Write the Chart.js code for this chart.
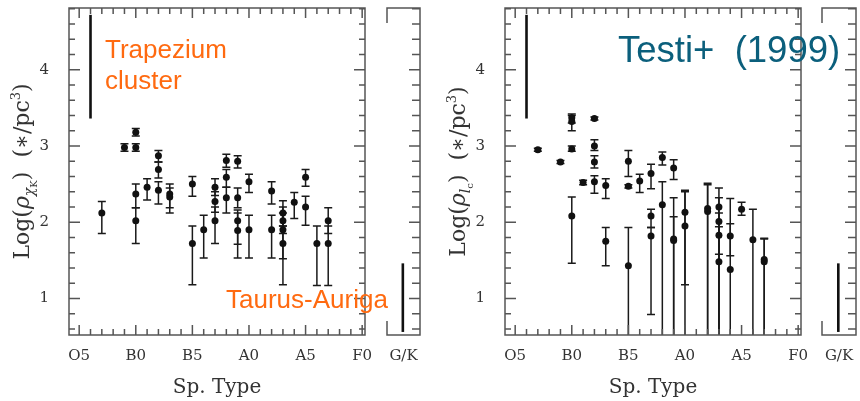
<!DOCTYPE html>
<html>
<head>
<meta charset="utf-8">
<script src="https://cdn.jsdelivr.net/npm/chart.js@4.4.0/dist/chart.umd.min.js"></script>
<style>
    html, body { margin: 0; padding: 0; background: #ffffff; }
    #wrap { position: relative; width: 860px; height: 401px; overflow: hidden; }
    #wrap canvas { position: absolute; top: 0; }
</style>
</head>
<body>
<div id="wrap">
    <canvas id="leftMain" width="430" height="401" style="left:0"></canvas>
    <canvas id="leftSide" width="50" height="401" style="left:380px"></canvas>
    <canvas id="rightMain" width="430" height="401" style="left:430px"></canvas>
    <canvas id="rightSide" width="45" height="401" style="left:815px"></canvas>
</div>
<script>
(function () {
    'use strict';

    // spectral type index: O5 = 0, O6 = 1 ... B0 = 5 ... A0 = 15 ... F0 = 25
    const spTypeTicks = [0, 5, 10, 15, 20, 25];
    const spTypeLabels = ['O5', 'B0', 'B5', 'A0', 'A5', 'F0'];
    const densityTicks = [1, 2, 3, 4];
    const sideLabel = 'G/K';

    // left panel: log rho (K band)
    const kType = [2, 4, 5, 5, 5, 5, 6, 7, 7, 7, 8, 8, 10, 10, 11, 12, 12, 12, 13, 13, 13,
        14, 14, 14, 14, 15, 15, 17, 17, 18, 18, 18, 18, 19, 20, 20, 21, 22, 22];
    const kLog = [2.12, 2.98, 3.18, 2.98, 2.37, 2.02, 2.46, 2.87, 2.69, 2.42, 2.37, 2.33, 2.50, 1.72, 1.90, 2.46, 2.27, 2.02, 2.81, 2.59, 2.32,
        2.80, 2.32, 2.02, 1.89, 2.53, 1.90, 2.41, 1.90, 2.12, 2.02, 1.90, 1.72, 2.26, 2.59, 2.20, 1.72, 2.02, 1.72];
    const kLo = [1.85, 2.93, 3.13, 2.93, 2.19, 1.72, 2.29, 2.79, 2.58, 2.24, 2.19, 2.12, 2.34, 1.18, 1.53, 2.35, 2.13, 1.72, 2.72, 2.46, 2.12,
        2.71, 2.19, 1.71, 1.53, 2.39, 1.53, 2.24, 1.53, 1.95, 1.85, 1.52, 1.18, 2.05, 2.47, 1.96, 1.17, 1.85, 1.17];
    const kHi = [2.27, 3.03, 3.23, 3.03, 2.50, 2.19, 2.57, 2.94, 2.79, 2.53, 2.50, 2.45, 2.60, 1.95, 2.09, 2.57, 2.40, 2.20, 2.89, 2.69, 2.46,
        2.87, 2.45, 2.16, 2.12, 2.63, 2.09, 2.53, 2.09, 2.28, 2.20, 2.12, 1.95, 2.39, 2.69, 2.34, 1.95, 2.19, 1.95];

    // right panel: log rho (Testi+ 1999 index)
    const lcType = [2, 4, 5, 5, 5, 5, 6, 7, 7, 7, 7, 8, 8, 10, 10, 10, 11, 12, 12, 12, 13, 13,
        14, 14, 14, 15, 15, 17, 17, 18, 18, 18, 18, 19, 19, 20, 21, 22, 22];
    const lcLog = [2.95, 2.79, 3.37, 3.32, 2.96, 2.08, 2.52, 3.36, 3.00, 2.79, 2.53, 2.48, 1.75, 2.80, 2.47, 1.43, 2.54, 2.64, 2.08, 1.82, 2.85, 2.23,
        2.71, 1.78, 1.76, 2.13, 1.95, 2.18, 2.14, 2.20, 2.01, 1.83, 1.48, 1.82, 1.38, 2.17, 1.77, 1.51, 1.48];
    const lcLo = [2.93, 2.77, 3.30, 3.20, 2.93, 1.46, 2.49, 3.34, 2.94, 2.71, 2.38, 2.31, 1.43, 2.60, 2.45, 0.0, 2.39, 2.44, 1.93, 0.79, 2.75, 0.0,
        2.56, 0.0, 0.0, 0.0, 1.18, 0.0, 0.0, 1.58, 0.0, 0.0, 0.0, 1.56, 0.0, 2.09, 0.0, 0.0, 0.0];
    const lcHi = [2.97, 2.81, 3.42, 3.40, 3.00, 2.33, 2.55, 3.38, 3.08, 2.87, 2.61, 2.57, 1.93, 2.94, 2.49, 1.93, 2.63, 2.76, 2.17, 1.93, 2.92, 2.53,
        2.82, 2.32, 2.07, 2.42, 2.40, 2.51, 2.49, 2.45, 2.32, 2.12, 1.94, 2.31, 1.98, 2.26, 2.17, 1.79, 1.78];

    // reference ranges drawn as vertical bars
    const trapeziumType = 1;
    const trapeziumRange = [3.36, 4.72];
    const taurusPos = 0.48;
    const taurusRange = [0.56, 1.46];

    const colors = {
        frame: '#555555',
        text: '#333333',
        mark: '#111111',
        orange: '#ff6a10',
        teal: '#0b5f7c'
    };
    const serif = "'DejaVu Serif', 'Liberation Serif', serif";
    const sans = "'Liberation Sans', Arial, sans-serif";

    function points(xs, ys, lo, hi) {
        return xs.map((x, i) => ({ x, y: ys[i], lo: lo[i], hi: hi[i] }));
    }

    // error bars are drawn beneath the dots, clipped to the plot box
    const errorBars = {
        id: 'errorBars',
        beforeDatasetsDraw(chart) {
            const { ctx, chartArea: a, scales: { x, y } } = chart;
            ctx.save();
            ctx.beginPath();
            ctx.rect(a.left, a.top, a.width, a.height);
            ctx.clip();
            ctx.strokeStyle = '#1a1a1a';
            ctx.lineWidth = 1.5;
            chart.data.datasets.forEach((ds) => {
                if (!ds.errorBars) return;
                ds.data.forEach((p) => {
                    const px = x.getPixelForValue(p.x);
                    const top = y.getPixelForValue(p.hi);
                    const bot = y.getPixelForValue(p.lo);
                    ctx.beginPath();
                    ctx.moveTo(px, top);
                    ctx.lineTo(px, bot);
                    ctx.moveTo(px - 4, top);
                    ctx.lineTo(px + 4, top);
                    ctx.moveTo(px - 4, bot);
                    ctx.lineTo(px + 4, bot);
                    ctx.stroke();
                });
            });
            ctx.restore();
        }
    };

    function tick(ctx, x1, y1, x2, y2) {
        ctx.moveTo(x1, y1);
        ctx.lineTo(x2, y2);
    }

    // box with inward ticks on all four sides
    const mainFrame = {
        id: 'mainFrame',
        afterDraw(chart) {
            const { ctx, chartArea: a, scales: { x, y } } = chart;
            ctx.save();
            ctx.strokeStyle = colors.frame;
            ctx.lineWidth = 1.5;
            ctx.strokeRect(a.left, a.top, a.width, a.height);
            ctx.beginPath();
            for (let i = 0; i <= 25; i++) {
                const px = x.getPixelForValue(i);
                const len = i % 5 === 0 ? 10 : 6;
                tick(ctx, px, a.bottom, px, a.bottom - len);
                tick(ctx, px, a.top, px, a.top + len);
            }
            for (let i = 3; i <= 24; i++) {
                const py = y.getPixelForValue(i / 5);
                const len = i % 5 === 0 ? 11 : 6;
                tick(ctx, a.left, py, a.left + len, py);
                tick(ctx, a.right, py, a.right - len, py);
            }
            ctx.stroke();
            ctx.restore();
        }
    };

    // broken-axis side box: full right edge, stubs on the left
    const sideFrame = {
        id: 'sideFrame',
        afterDraw(chart) {
            const { ctx, chartArea: a, scales: { y } } = chart;
            ctx.save();
            ctx.strokeStyle = colors.frame;
            ctx.lineWidth = 1.5;
            ctx.beginPath();
            ctx.moveTo(a.left, a.top + 15);
            ctx.lineTo(a.left, a.top);
            ctx.lineTo(a.right, a.top);
            ctx.lineTo(a.right, a.bottom);
            ctx.lineTo(a.left, a.bottom);
            ctx.lineTo(a.left, a.bottom - 14);
            for (let i = 3; i <= 24; i++) {
                const py = y.getPixelForValue(i / 5);
                const len = i % 5 === 0 ? 11 : 8;
                tick(ctx, a.right, py, a.right - len, py);
            }
            ctx.stroke();
            ctx.restore();
        }
    };

    // rotated y title with sub/superscripts
    const yTitle = {
        id: 'yTitle',
        afterDraw(chart, args, opts) {
            const { ctx, chartArea: a } = chart;
            const size = 22;
            const parts = opts.parts;
            ctx.save();
            ctx.fillStyle = colors.text;
            ctx.textBaseline = 'alphabetic';
            ctx.textAlign = 'left';
            const fontFor = (p) => `${p.italic ? 'italic ' : ''}${Math.round(size * (p.s || 1))}px ${serif}`;
            let total = 0;
            parts.forEach((p) => {
                ctx.font = fontFor(p);
                total += ctx.measureText(p.t).width;
            });
            ctx.translate(a.left - 40, (a.top + a.bottom) / 2);
            ctx.rotate(-Math.PI / 2);
            let cx = -total / 2;
            parts.forEach((p) => {
                ctx.font = fontFor(p);
                ctx.fillText(p.t, cx, p.dy || 0);
                cx += ctx.measureText(p.t).width;
            });
            ctx.restore();
        }
    };

    const notes = {
        id: 'notes',
        afterDraw(chart, args, opts) {
            const { ctx } = chart;
            ctx.save();
            ctx.textAlign = 'left';
            ctx.textBaseline = 'alphabetic';
            (opts.items || []).forEach((n) => {
                ctx.font = `${n.size}px ${sans}`;
                ctx.fillStyle = n.color;
                ctx.fillText(n.text, n.x, n.y);
            });
            ctx.restore();
        }
    };

    function fixWidth(w) {
        return (s) => {
            s.width = w;
            s.paddingTop = 0;
            s.paddingBottom = 0;
        };
    }

    function fixHeight(h) {
        return (s) => {
            s.height = h;
            s.paddingLeft = 0;
            s.paddingRight = 0;
        };
    }

    function makeMain(id, data, yAxisWidth, padRight, titleParts, noteItems) {
        return new Chart(document.getElementById(id), {
            type: 'scatter',
            data: {
                datasets: [
                    {
                        data,
                        errorBars: true,
                        backgroundColor: colors.mark,
                        borderWidth: 0,
                        pointRadius: 3.5
                    },
                    {
                        type: 'line',
                        data: trapeziumRange.map((v) => ({ x: trapeziumType, y: v })),
                        borderColor: colors.mark,
                        borderWidth: 2.6,
                        pointRadius: 0
                    }
                ]
            },
            options: {
                responsive: false,
                animation: false,
                events: [],
                layout: { padding: { top: 8, right: padRight, left: 0, bottom: 0 } },
                plugins: {
                    legend: { display: false },
                    tooltip: { enabled: false },
                    yTitle: { parts: titleParts },
                    notes: { items: noteItems }
                },
                scales: {
                    x: {
                        type: 'linear',
                        min: -0.9,
                        max: 25.25,
                        grid: { display: false },
                        border: { display: false },
                        afterFit: fixHeight(66),
                        afterBuildTicks: (s) => { s.ticks = spTypeTicks.map((value) => ({ value })); },
                        ticks: {
                            autoSkip: false,
                            maxRotation: 0,
                            padding: 4,
                            color: colors.text,
                            font: { family: serif, size: 15 },
                            callback: (v) => spTypeLabels[spTypeTicks.indexOf(v)]
                        },
                        title: {
                            display: true,
                            text: 'Sp. Type',
                            color: colors.text,
                            font: { family: serif, size: 20 },
                            padding: { top: 0, bottom: 1 }
                        }
                    },
                    y: {
                        min: 0.52,
                        max: 4.81,
                        grid: { display: false },
                        border: { display: false },
                        afterFit: fixWidth(yAxisWidth),
                        afterBuildTicks: (s) => { s.ticks = densityTicks.map((value) => ({ value })); },
                        ticks: {
                            padding: 12,
                            color: colors.text,
                            font: { family: serif, size: 15 }
                        }
                    }
                }
            },
            plugins: [errorBars, mainFrame, yTitle, notes]
        });
    }

    function makeSide(id, padLeft, padRight) {
        return new Chart(document.getElementById(id), {
            type: 'scatter',
            data: {
                datasets: [{
                    type: 'line',
                    data: taurusRange.map((v) => ({ x: taurusPos, y: v })),
                    borderColor: colors.mark,
                    borderWidth: 2.6,
                    pointRadius: 0
                }]
            },
            options: {
                responsive: false,
                animation: false,
                events: [],
                layout: { padding: { top: 8, right: padRight, left: padLeft, bottom: 0 } },
                plugins: { legend: { display: false }, tooltip: { enabled: false } },
                scales: {
                    x: {
                        type: 'linear',
                        min: 0,
                        max: 1,
                        grid: { display: false },
                        border: { display: false },
                        afterFit: fixHeight(66),
                        afterBuildTicks: (s) => { s.ticks = [{ value: 0.5 }]; },
                        ticks: {
                            autoSkip: false,
                            maxRotation: 0,
                            padding: 4,
                            color: colors.text,
                            font: { family: serif, size: 15 },
                            callback: () => sideLabel
                        }
                    },
                    y: { display: false, min: 0.52, max: 4.81 }
                }
            },
            plugins: [sideFrame]
        });
    }

    const leftTitle = [
        { t: 'Log(' },
        { t: 'ρ', italic: true },
        { t: 'χ', s: 0.65, dy: 5, italic: true },
        { t: 'K', s: 0.45, dy: 8 },
        { t: ')  (∗/pc' },
        { t: '3', s: 0.6, dy: -9 },
        { t: ')' }
    ];
    const rightTitle = [
        { t: 'Log(' },
        { t: 'ρ', italic: true },
        { t: 'l', s: 0.65, dy: 5, italic: true },
        { t: 'c', s: 0.45, dy: 8 },
        { t: ')  (∗/pc' },
        { t: '3', s: 0.6, dy: -9 },
        { t: ')' }
    ];

    makeMain('leftMain', points(kType, kLog, kLo, kHi), 69, 65, leftTitle, [
        { text: 'Trapezium', x: 105, y: 58, size: 26, color: colors.orange },
        { text: 'cluster', x: 105, y: 89, size: 26, color: colors.orange },
        { text: 'Taurus-Auriga', x: 226, y: 308, size: 26, color: colors.orange }
    ]);
    makeSide('leftSide', 7, 10);
    makeMain('rightMain', points(lcType, lcLog, lcLo, lcHi), 75, 59, rightTitle, [
        { text: 'Testi+  (1999)', x: 188, y: 62, size: 36.5, color: colors.teal }
    ]);
    makeSide('rightSide', 7, 4);
})();
</script>
</body>
</html>
